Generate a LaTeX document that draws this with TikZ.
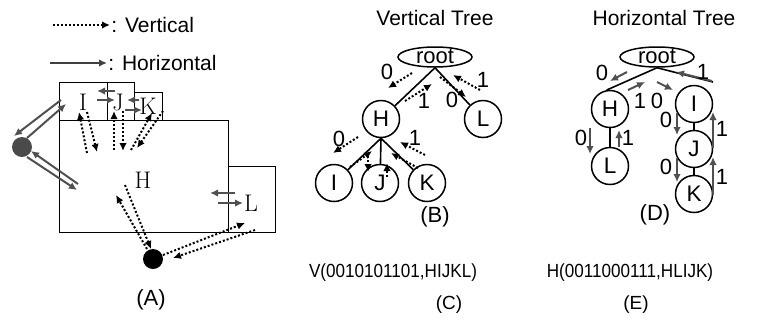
\documentclass[tikz,border=0pt]{standalone}
\usepackage{fontspec}
\usepackage{graphicx}
\newfontfamily\arial{Liberation Sans}
\usetikzlibrary{arrows.meta,shapes.geometric}
\definecolor{hgray}{HTML}{505050}
\definecolor{dotgray}{HTML}{4A4A4A}

\begin{document}
\begin{tikzpicture}[
  x=1pt, y=-1pt, line width=.9pt,
  vflow/.style={draw=black, line width=2pt, dotted, -{Latex[length=8pt,width=7.5pt]}},
  hflow/.style={draw=hgray, line width=2pt, -{Latex[length=8pt,width=7.5pt]}},
  tnode/.style={circle, draw, line width=1.5pt, minimum size=37pt, inner sep=0pt,
    font=\arial\fontsize{22.5}{24}\selectfont},
  rnode/.style={ellipse, draw, line width=1.5pt, minimum width=74pt, minimum height=20pt,
    inner sep=0pt, text height=12pt, text depth=0pt, font=\arial\fontsize{22}{24}\selectfont},
  link/.style={draw=black, line width=1.6pt},
  bit/.style={font=\arial\fontsize{22}{24}\selectfont, inner sep=0pt},
  lab/.style={font=\arial\fontsize{21}{24}\selectfont, inner sep=0pt},
  seq/.style={font=\arial\fontsize{19}{22}\selectfont, inner sep=0pt},
  room/.style={font=\fontsize{24}{26}\selectfont, inner sep=0pt},
  ball/.style={circle, minimum size=20pt, inner sep=0pt},
]
  \useasboundingbox (0,0) rectangle (765,322);

  % Legend.
  \draw[vflow, line width=1.7pt] (53,25) -- (110,25);
  \node[lab, anchor=west] (legv) at (111,25) {: Vertical};
  \draw[hflow, draw=black!75] (50,63) -- (107,63);
  \node[lab, anchor=west] (legh) at (108,63) {: Horizontal};

  % (A) floor plan: rooms and their letters.
  \draw (59,82) rectangle (107,120);
  \draw (107,82) rectangle (134,120);
  \draw (134,92) rectangle (162,120);
  \draw (59,120) rectangle (228,232);
  \draw (228,166) rectangle (275,232);
  \node[room] (rI) at (83,102) {I};
  \node[room] (rJ) at (118,102) {J};
  \node[room] (rK) at (148,106) {K};
  \node[room] (rH) at (143,180) {H};
  \node[room] (rL) at (251,203) {L};
  \node[ball, fill=dotgray] (pg) at (22,147) {};
  \node[ball, fill=black] (pb) at (153,259) {};
  \node[lab, font=\arial\fontsize{22}{24}\selectfont] (capA) at (151,300) {(A)};

  % horizontal moves between neighbours
  \draw[hflow] (115,91) -- (97,91);
  \draw[hflow] (97,100) -- (115,100);
  \draw[hflow] (139,100) -- (127,100);
  \draw[hflow] (125,110) -- (142,110);
  \draw[hflow] (235,193) -- (210,193);
  \draw[hflow] (218,203) -- (243,203);
  \draw[hflow] (61,100) -- (14,136);
  \draw[hflow] (27,138) -- (66,104);
  \draw[hflow] (78,184) -- (31,151);
  \draw[hflow] (27,157) -- (77,190);

  % vertical moves between parent and child
  \draw[vflow] (87,153) -- (79,112);
  \draw[vflow] (87,112) -- (97,152);
  \draw[vflow] (114,150) -- (114,111);
  \draw[vflow] (123,111) -- (123,151);
  \draw[vflow] (131,150) -- (152,113);
  \draw[vflow] (163,111) -- (137,148);
  \draw[vflow] (125,185) -- (151,249);
  \draw[vflow] (147,249) -- (116,195);
  \draw[vflow] (163,255) -- (245,223);
  \draw[vflow] (255,230) -- (173,258);

  % (B) vertical tree.
  \node[lab] (vtitle) at (435,18) {Vertical Tree};
  \node[rnode] (vroot) at (435,57) {root};
  \node[tnode] (vH) at (381,119) {H};
  \node[tnode] (vL) at (483,119) {L};
  \node[tnode] (vI) at (334,183) {I};
  \node[tnode] (vJ) at (380,183) {J};
  \node[tnode] (vK) at (427,183) {K};
  \foreach \c in {vH,vL} \draw[link] (vroot.south) -- (\c);
  \foreach \c in {vI,vJ,vK} \draw[link] (vH.south) -- (\c);
  \draw[vflow] (412,73) -- (388,88);
  \draw[vflow] (405,101) -- (432,84);
  \draw[vflow] (440,77) -- (466,97);
  \draw[vflow] (480,90) -- (453,75);
  \draw[vflow] (358,137) -- (333,153);
  \draw[vflow] (350,167) -- (372,151);
  \draw[vflow] (368,156) -- (368,172);
  \draw[vflow] (387,177) -- (387,163);
  \draw[vflow] (418,168) -- (391,153);
  \draw[vflow] (425,155) -- (400,142);
  \foreach \x/\y/\b in {387/72/0, 424/101/1, 452/100/0, 483/80/1, 339/139/0, 415/138/1}
    \node[bit] at (\x,\y) {\b};
  \node[lab, font=\arial\fontsize{22}{24}\selectfont] (capB) at (435,217) {(B)};

  % (D) horizontal tree.
  \node[lab] (htitle) at (664,18) {Horizontal Tree};
  \node[rnode] (hroot) at (657,57) {root};
  \node[tnode] (hH) at (610,109) {H};
  \node[tnode] (hL) at (610,166) {L};
  \node[tnode] (hI) at (694,104) {I};
  \node[tnode] (hJ) at (694,149) {J};
  \node[tnode] (hK) at (694,194) {K};
  \coordinate (hIend) at (713,82);
  \draw[link] (hroot.south) -- (hH.100);
  \draw[link] (hroot.south) -- (hIend);
  \draw[link] (hH) -- (hL);
  \draw[link] (hI) -- (hJ);
  \draw[link] (hJ) -- (hK);
  \draw[hflow] (627,72) -- (610,81);
  \draw[hflow] (628,90) -- (645,82);
  \draw[hflow] (657,82) -- (673,90);
  \draw[hflow] (712,81) -- (676,72);
  \draw[hflow] (590,128) -- (590,154);
  \draw[hflow] (619,147) -- (619,130);
  \draw[hflow] (677,113) -- (677,135);
  \draw[hflow] (713,148) -- (713,112);
  \draw[hflow] (677,158) -- (677,182);
  \draw[hflow] (713,195) -- (713,157);
  \foreach \x/\y/\b in {602/73/0, 703/72/1, 640/101/1, 657/101/0,
                        581/138/0, 628/138/1, 666/120/0, 722/129/1, 666/167/0, 722/177/1}
    \node[bit] at (\x,\y) {\b};
  \node[lab, font=\arial\fontsize{22}{24}\selectfont] (capD) at (655,215) {(D)};

  % (C) and (E) bit strings.
  \node[seq] (vseq) at (393,273) {\scalebox{.9}[1]{V(0010101101,HIJKL)}};
  \node[lab, font=\arial\fontsize{19}{22}\selectfont] (capC) at (449,305) {(C)};
  \node[seq] (hseq) at (630,273) {\scalebox{.9}[1]{H(0011000111,HLIJK)}};
  \node[lab, font=\arial\fontsize{19}{22}\selectfont] (capE) at (636,305) {(E)};
\end{tikzpicture}
\end{document}
